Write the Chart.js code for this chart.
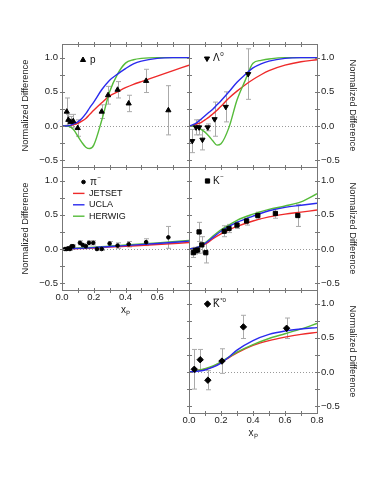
<!DOCTYPE html>
<html>
<head>
<meta charset="utf-8">
<script src="https://cdn.jsdelivr.net/npm/chart.js@4"></script>
<style>
  html, body { margin: 0; padding: 0; background: #fff; }
  #wrap { position: relative; width: 382px; height: 494px; }
  canvas { position: absolute; left: 0; top: 0; }
</style>
</head>
<body>
<div id="wrap">
  <canvas id="c0" width="382" height="494"></canvas>
  <canvas id="c1" width="382" height="494"></canvas>
  <canvas id="c2" width="382" height="494"></canvas>
  <canvas id="c3" width="382" height="494"></canvas>
  <canvas id="c4" width="382" height="494"></canvas>
</div>
<script>
// x grids for the model curves
const fineX = [0, 0.025, 0.05, 0.075, 0.1, 0.125, 0.15, 0.175, 0.2, 0.25, 0.3, 0.35, 0.4, 0.45, 0.5, 0.6, 0.7, 0.8];
const coarseX = [0, 0.05, 0.1, 0.15, 0.2, 0.25, 0.3, 0.4, 0.5, 0.6, 0.7, 0.8];
const piCurveX = [0, 0.2, 0.4, 0.6, 0.8];

// tick values
const xLabelTicks = [0, 0.2, 0.4, 0.6, 0.8];
const xMarkTicks = [0.1, 0.2, 0.3, 0.4, 0.5, 0.6, 0.7];
const yMarkTicks = [-0.5, -0.25, 0, 0.25, 0.5, 0.75, 1.0];

// p
const pX = [0.03, 0.04, 0.055, 0.071, 0.099, 0.25, 0.29, 0.35, 0.42, 0.53, 0.67];
const pY = [0.21, 0.09, 0.06, 0.07, -0.03, 0.21, 0.45, 0.53, 0.33, 0.66, 0.23];
const pErr = [0.20, 0.08, 0.08, 0.10, 0.12, 0.10, 0.13, 0.12, 0.12, 0.17, 0.36];
const pJetset = [0, 0, 0.005, 0.02, 0.04, 0.07, 0.11, 0.17, 0.23, 0.34, 0.44, 0.50, 0.56, 0.61, 0.65, 0.73, 0.81, 0.89];
const pUcla = [0, 0, 0.01, 0.03, 0.06, 0.11, 0.18, 0.27, 0.35, 0.53, 0.67, 0.76, 0.84, 0.91, 0.95, 0.99, 1.0, 1.0];
const pHerwig = [0, 0, -0.01, -0.06, -0.15, -0.24, -0.31, -0.33, -0.28, 0.08, 0.5, 0.76, 0.92, 0.97, 0.99, 1.0, 1.0, 1.0];

// Lambda
const lamX = [0.02, 0.044, 0.063, 0.084, 0.117, 0.16, 0.23, 0.37];
const lamY = [-0.22, -0.02, -0.02, -0.20, -0.02, 0.10, 0.28, 0.76];
const lamErr = [0.17, 0.11, 0.11, 0.15, 0.05, 0.25, 0.22, 0.37];
const lamJetset = [0, 0.01, 0.03, 0.05, 0.09, 0.13, 0.18, 0.23, 0.29, 0.41, 0.51, 0.60, 0.68, 0.75, 0.81, 0.89, 0.94, 0.97];
const lamUcla = [0, 0.02, 0.05, 0.1, 0.15, 0.2, 0.25, 0.31, 0.37, 0.5, 0.64, 0.75, 0.85, 0.91, 0.95, 0.99, 1.0, 1.0];
const lamHerwig = [0, 0, -0.02, -0.05, -0.09, -0.15, -0.22, -0.28, -0.26, -0.02, 0.38, 0.66, 0.92, 0.96, 0.98, 1.0, 1.0, 1.0];

// pi-
const piX = [0.019, 0.03, 0.04, 0.05, 0.06, 0.07, 0.113, 0.13, 0.15, 0.17, 0.197, 0.22, 0.25, 0.30, 0.35, 0.42, 0.53, 0.67];
const piY = [0.0, 0.0, 0.01, 0.0, 0.04, 0.04, 0.09, 0.06, 0.04, 0.09, 0.09, 0.0, 0.0, 0.08, 0.05, 0.07, 0.10, 0.17];
const piErr = [0.02, 0.02, 0.02, 0.02, 0.02, 0.02, 0.03, 0.02, 0.02, 0.03, 0.03, 0.02, 0.02, 0.03, 0.04, 0.04, 0.05, 0.16];
const piJetset = [0, 0.015, 0.04, 0.065, 0.095];
const piUcla = [0, 0.02, 0.05, 0.08, 0.115];
const piHerwig = [0, 0.025, 0.06, 0.09, 0.125];

// K-
const kX = [0.027, 0.04, 0.054, 0.063, 0.08, 0.105, 0.22, 0.25, 0.30, 0.36, 0.43, 0.54, 0.68];
const kY = [-0.054, -0.025, -0.015, 0.25, 0.06, -0.054, 0.26, 0.30, 0.35, 0.41, 0.49, 0.52, 0.49];
const kErr = [0.07, 0.05, 0.05, 0.14, 0.12, 0.15, 0.08, 0.06, 0.05, 0.06, 0.05, 0.07, 0.16];
const kJetset = [0, 0.02, 0.07, 0.15, 0.22, 0.28, 0.33, 0.41, 0.47, 0.51, 0.54, 0.57];
const kUcla = [0, 0.02, 0.08, 0.17, 0.26, 0.33, 0.39, 0.48, 0.56, 0.61, 0.64, 0.67];
const kHerwig = [0, 0.02, 0.09, 0.19, 0.28, 0.35, 0.42, 0.51, 0.58, 0.63, 0.69, 0.81];

// K*0 bar
const kstX = [0.033, 0.07, 0.118, 0.206, 0.34, 0.61];
const kstY = [0.04, 0.18, -0.12, 0.16, 0.66, 0.64];
const kstErr = [0.29, 0.15, 0.14, 0.18, 0.17, 0.15];
const kstJetset = [0, 0.02, 0.04, 0.08, 0.14, 0.21, 0.28, 0.39, 0.46, 0.51, 0.55, 0.58];
const kstUcla = [0, 0.01, 0.03, 0.07, 0.13, 0.22, 0.32, 0.46, 0.55, 0.60, 0.63, 0.65];
const kstHerwig = [0, 0.02, 0.05, 0.09, 0.15, 0.22, 0.29, 0.40, 0.49, 0.56, 0.63, 0.71];

const modelNames = ['JETSET', 'UCLA', 'HERWIG'];
const modelColors = ['#ee2a2a', '#2a2aee', '#55bb3a'];

const FONT = '"Liberation Sans", Arial, Helvetica, sans-serif';
Chart.defaults.font.family = FONT;
Chart.defaults.color = '#222';

const zip = (xs, ys) => xs.map((x, i) => ({ x: x, y: ys[i] }));
const fmt = v => v.toFixed(1).replace('-', '\u2212');

function drawLabel(ctx, ds, x, y, size) {
  ctx.fillStyle = '#111';
  ctx.textBaseline = 'middle';
  ctx.textAlign = 'left';
  ctx.font = size + 'px ' + FONT;
  ctx.fillText(ds.label, x, y);
  const w = ctx.measureText(ds.label).width;
  if (ds.bar) {
    ctx.strokeStyle = '#111';
    ctx.lineWidth = 0.8;
    ctx.beginPath();
    ctx.moveTo(x + 0.5, y - size * 0.5);
    ctx.lineTo(x + w - 0.5, y - size * 0.5);
    ctx.stroke();
  }
  if (ds.sup) {
    ctx.font = (size * 0.62) + 'px ' + FONT;
    ctx.fillText(ds.sup, x + w + 0.5, y - size * 0.38);
  }
}

const deco = {
  id: 'deco',
  beforeDatasetsDraw(chart) {
    const { ctx, chartArea: a, scales: { x, y } } = chart;
    ctx.save();
    ctx.strokeStyle = '#999';
    ctx.lineWidth = 1;
    ctx.setLineDash([1, 2]);
    const y0 = Math.round(y.getPixelForValue(0)) + 0.5;
    ctx.beginPath();
    ctx.moveTo(a.left, y0);
    ctx.lineTo(a.right, y0);
    ctx.stroke();
    ctx.setLineDash([]);
    ctx.strokeStyle = '#aaa';
    chart.data.datasets.forEach(ds => {
      if (!ds.err) return;
      ds.data.forEach((p, i) => {
        const px = Math.round(x.getPixelForValue(p.x)) + 0.5;
        const yt = y.getPixelForValue(p.y + ds.err[i]);
        const yb = y.getPixelForValue(p.y - ds.err[i]);
        ctx.beginPath();
        ctx.moveTo(px, yt); ctx.lineTo(px, yb);
        ctx.moveTo(px - 2.5, yt); ctx.lineTo(px + 2.5, yt);
        ctx.moveTo(px - 2.5, yb); ctx.lineTo(px + 2.5, yb);
        ctx.stroke();
      });
    });
    ctx.restore();
  },
  afterDraw(chart, args, o) {
    const { ctx, chartArea: a, scales: { x, y } } = chart;
    ctx.save();
    ctx.strokeStyle = '#777';
    ctx.lineWidth = 1;
    ctx.strokeRect(a.left + 0.5, a.top + 0.5, a.right - a.left, a.bottom - a.top);
    ctx.beginPath();
    xMarkTicks.forEach(v => {
      const px = Math.round(x.getPixelForValue(v)) + 0.5;
      ctx.moveTo(px, a.top - 2); ctx.lineTo(px, a.top + 3);
      ctx.moveTo(px, a.bottom - 2); ctx.lineTo(px, a.bottom + 3);
    });
    yMarkTicks.forEach(v => {
      const py = Math.round(y.getPixelForValue(v)) + 0.5;
      ctx.moveTo(a.left - 2, py); ctx.lineTo(a.left + 3, py);
      ctx.moveTo(a.right - 2, py); ctx.lineTo(a.right + 3, py);
    });
    ctx.stroke();

    const lg = o.legend;
    let yy = a.top + lg.y;
    lg.items.forEach(it => {
      const ds = chart.data.datasets[it];
      if (ds.showLine) {
        ctx.strokeStyle = ds.borderColor;
        ctx.lineWidth = 1.4;
        ctx.beginPath();
        ctx.moveTo(a.left + lg.lx0, yy);
        ctx.lineTo(a.left + lg.lx1, yy);
        ctx.stroke();
        drawLabel(ctx, ds, a.left + lg.tx, yy, 9);
      } else {
        ctx.fillStyle = '#000';
        ctx.strokeStyle = '#000';
        ctx.lineWidth = 1;
        Chart.helpers.drawPoint(ctx, {
          pointStyle: ds.pointStyle, radius: ds.pointRadius,
          rotation: ds.rotation || 0, borderWidth: 1
        }, a.left + lg.x, yy);
        drawLabel(ctx, ds, a.left + lg.px, yy, 10);
      }
      yy += lg.step;
    });
    ctx.restore();
  }
};

function panel(id, area, side, xAxis, hideLast, curveX, curves, pts, legend) {
  const [L, T, R, B] = area;
  const yW = side === 'left' ? L : 382 - R;
  const xH = xAxis ? 34 : 0;
  const order = [1, 2, 0]; // blue, green, red (first drawn on top)
  const datasets = [Object.assign({
    data: zip(pts.x, pts.y), showLine: false,
    backgroundColor: '#000', borderColor: '#000', borderWidth: 1
  }, pts.style)];
  order.forEach(m => {
    datasets.push({
      label: modelNames[m], data: zip(curveX, curves[m]), showLine: true,
      borderColor: modelColors[m], borderWidth: 1.4, pointRadius: 0,
      cubicInterpolationMode: 'monotone', fill: false
    });
  });
  // legend rows refer to: 0 = points, then JETSET, UCLA, HERWIG
  const idx = { pts: 0, JETSET: 3, UCLA: 1, HERWIG: 2 };
  legend.items = legend.items.map(k => idx[k]);

  new Chart(document.getElementById(id), {
    type: 'scatter',
    data: { datasets: datasets },
    options: {
      responsive: false, animation: false, events: [],
      layout: { padding: {
        left: side === 'left' ? 0 : L, right: side === 'left' ? 382 - R : 0,
        top: T, bottom: 494 - B - xH } },
      plugins: { legend: { display: false }, tooltip: { enabled: false }, deco: { legend: legend } },
      scales: {
        x: {
          type: 'linear', min: 0, max: 0.8, display: xAxis, position: 'bottom',
          afterFit: s => { s.height = xH; },
          afterBuildTicks: s => { s.ticks = xLabelTicks.map(v => ({ value: v })); },
          grid: { display: false, drawTicks: false }, border: { display: false },
          ticks: { padding: 1.5, font: { size: 9.5 }, color: '#222', maxRotation: 0,
            callback: v => (hideLast && v > 0.75) ? '' : fmt(v) },
          title: { display: true, text: 'x\u209a', font: { size: 10 }, color: '#222',
            padding: { top: 0, bottom: 8 } }
        },
        y: {
          type: 'linear', min: -0.6, max: 1.2, position: side,
          afterFit: s => { s.width = yW; },
          grid: { display: false, drawTicks: false }, border: { display: false },
          ticks: { stepSize: 0.5, includeBounds: false, padding: 4, font: { size: 9.5 }, color: '#222',
            callback: v => fmt(v) },
          title: { display: true, text: 'Normalized Difference', font: { size: 9.3 }, color: '#222',
            padding: { top: side === 'left' ? 19.4 : 23.4, bottom: 0 } }
        }
      }
    },
    plugins: [deco]
  });
}

panel('c0', [62, 44, 189, 167], 'left', false, false, fineX, [pJetset, pUcla, pHerwig],
  { x: pX, y: pY, style: { label: 'p', err: pErr, pointStyle: 'triangle', pointRadius: 3 } },
  { x: 21, y: 16, px: 28, step: 11.4, items: ['pts'] });

panel('c1', [189, 44, 317, 167], 'right', false, false, fineX, [lamJetset, lamUcla, lamHerwig],
  { x: lamX, y: lamY, style: { label: '\u039b', sup: '0', err: lamErr, pointStyle: 'triangle', rotation: 180, pointRadius: 3 } },
  { x: 18, y: 14.5, px: 24, step: 11.4, items: ['pts'] });

panel('c2', [62, 167, 189, 290], 'left', true, true, piCurveX, [piJetset, piUcla, piHerwig],
  { x: piX, y: piY, style: { label: '\u03c0', sup: '\u2212', err: piErr, pointStyle: 'circle', pointRadius: 1.8 } },
  { x: 21.5, y: 15, px: 28, lx0: 11, lx1: 22.5, tx: 27, step: 11.4, items: ['pts', 'JETSET', 'UCLA', 'HERWIG'] });

panel('c3', [189, 167, 317, 290], 'right', false, false, coarseX, [kJetset, kUcla, kHerwig],
  { x: kX, y: kY, style: { label: 'K', sup: '\u2212', err: kErr, pointStyle: 'rect', pointRadius: 3 } },
  { x: 18.5, y: 14, px: 24, step: 11.4, items: ['pts'] });

panel('c4', [189, 290, 317, 413], 'right', true, false, coarseX, [kstJetset, kstUcla, kstHerwig],
  { x: kstX, y: kstY, style: { label: 'K', sup: '*0', bar: true, err: kstErr, pointStyle: 'rectRot', pointRadius: 3.2 } },
  { x: 18.5, y: 14, px: 24, step: 11.4, items: ['pts'] });
</script>
</body>
</html>
